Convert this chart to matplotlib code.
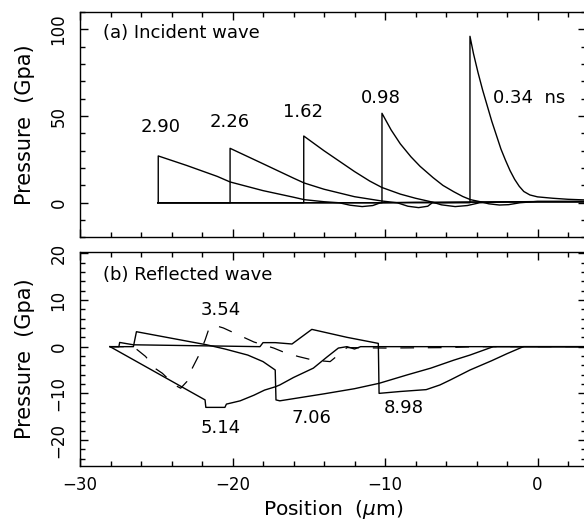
import matplotlib
matplotlib.use("Agg")
import matplotlib.pyplot as plt
from matplotlib.ticker import MultipleLocator

plt.rcParams["font.family"] = ["DejaVu Sans"]
plt.rcParams["axes.unicode_minus"] = True

# (a) incident wave profiles, time in ns -> (position um, pressure GPa)
inc_labels = ["2.90", "2.26", "1.62", "0.98", "0.34  ns"]
inc_x_290 = [-24.87, -24.87, -23.0, -21.0, -20.16, -18.0, -16.0, -15.3, -14.0, -13.0,
             -12.3, -11.5, -10.8, -10.3, -8.0, -4.0, 0.0, 3.2]
inc_p_290 = [0.0, 27.0, 21.5, 15.2, 12.0, 7.0, 3.2, 1.8, 0.6, 0.0,
             -1.4, -2.2, -1.6, 0.0, 0.3, 0.4, 0.5, 0.5]
inc_x_226 = [-24.9, -20.16, -20.16, -18.0, -16.0, -15.3, -14.0, -12.0, -10.2, -9.2,
             -8.5, -7.8, -7.2, -6.9, -4.0, 0.0, 3.2]
inc_p_226 = [0.0, 0.0, 31.4, 22.5, 14.2, 11.4, 7.8, 3.5, 1.0, 0.0,
             -2.0, -2.8, -2.0, 0.0, 0.4, 0.6, 0.6]
inc_x_162 = [-24.9, -15.33, -15.33, -14.0, -12.95, -12.0, -11.0, -10.2, -9.0, -8.0,
             -6.9, -6.3, -5.4, -4.6, -3.8, -2.0, 0.0, 3.2]
inc_p_162 = [0.0, 0.0, 38.5, 30.0, 23.7, 18.0, 12.5, 8.8, 5.0, 2.6,
             0.4, -1.2, -2.2, -1.6, 0.0, 0.5, 0.7, 0.7]
inc_x_098 = [-24.9, -10.2, -10.2, -9.6, -9.0, -8.3, -7.7, -6.85, -6.2, -5.5,
             -4.9, -4.4, -3.6, -3.2, -2.5, -1.9, -1.15, 0.0, 3.2]
inc_p_098 = [0.0, 0.0, 51.6, 42.0, 34.0, 26.5, 21.0, 14.5, 10.0, 6.4,
             3.6, 1.8, 0.3, -0.6, -1.3, -1.1, 0.0, 0.8, 0.8]
inc_x_034 = [-24.9, -4.43, -4.43, -4.2, -3.9, -3.6, -3.3, -3.0, -2.7, -2.4,
             -2.1, -1.8, -1.5, -1.2, -0.9, -0.5, 0.0, 1.0, 2.0, 3.2]
inc_p_034 = [0.0, 0.0, 96.0, 86.0, 75.0, 65.0, 56.0, 47.0, 39.0, 31.0,
             24.5, 18.5, 13.5, 9.5, 6.5, 4.5, 3.4, 2.6, 2.0, 1.6]
inc_lx = [-24.74, -20.16, -15.4, -10.3, -2.9]
inc_ly = [43.7, 46.6, 52.3, 60.4, 60.4]

# (b) reflected wave profiles
ref_labels = ["3.54", "5.14", "7.06", "8.98"]
ref_x_354 = [-28.03, -26.5, -25.7, -25.1, -24.6, -23.8, -23.4, -23.0, -22.7, -22.2,
             -21.8, -21.5, -21.0, -20.6, -19.6, -18.6, -18.0, -17.3, -16.7, -15.7,
             -14.7, -13.6, -13.0, -12.5, -10.0, -6.0, -4.0, 3.2]
ref_p_354 = [0.0, 0.0, -2.1, -4.6, -5.7, -8.2, -8.9, -7.5, -5.0, -1.8,
             1.4, 4.3, 4.4, 4.0, 2.5, 1.0, 0.4, -0.3, -1.1, -2.1,
             -2.9, -3.2, -1.6, -0.2, -0.3, -0.2, 0.0, 0.0]
ref_x_514 = [-28.03, -21.8, -21.75, -20.5, -20.4, -19.5, -18.6, -17.9, -17.2, -16.9,
             -16.0, -14.7, -13.8, -13.06, -12.5, -12.0, -11.6, 3.2]
ref_p_514 = [0.0, -11.4, -13.0, -13.0, -12.3, -11.6, -10.4, -9.3, -8.6, -8.2,
             -6.6, -4.6, -2.2, -0.3, 0.0, -0.5, 0.0, 0.0]
ref_x_706 = [-28.03, -26.5, -26.3, -21.7, -20.5, -19.0, -18.0, -17.2, -17.15, -16.9,
             -14.0, -12.0, -10.39, -8.5, -7.0, -5.5, -4.43, -2.9, 3.2]
ref_p_706 = [0.0, 0.0, 3.2, 0.4, -0.5, -1.8, -3.2, -5.0, -11.4, -11.6,
             -10.1, -9.0, -7.85, -6.0, -4.6, -2.9, -1.8, 0.0, 0.0]
ref_x_898 = [-28.03, -27.45, -27.4, -26.5, -18.2, -18.0, -17.2, -16.1, -14.8, -12.5,
             -10.44, -10.39, -9.0, -7.3, -6.4, -5.7, -4.43, -3.0, -2.0, -0.93, 3.2]
ref_p_898 = [0.0, 0.0, 0.9, 0.4, 0.0, 0.86, 0.86, 0.57, 3.7, 2.0,
             0.7, -10.0, -9.6, -9.2, -8.2, -7.1, -5.0, -3.0, -1.5, 0.0, 0.0]
ref_lx = [-20.8, -20.8, -14.8, -8.8]
ref_ly = [7.9, -17.5, -15.3, -13.2]

fig = plt.figure(figsize=(5.84, 5.23), dpi=100)
ax1 = fig.add_axes([0.137, 0.546, 0.867, 0.431])
ax2 = fig.add_axes([0.137, 0.109, 0.867, 0.410])

line_kw = dict(color="black", linewidth=1.0)
for xs, ps in [(inc_x_290, inc_p_290), (inc_x_226, inc_p_226), (inc_x_162, inc_p_162),
               (inc_x_098, inc_p_098), (inc_x_034, inc_p_034)]:
    ax1.plot(xs, ps, **line_kw)
for lab, lx, ly in zip(inc_labels, inc_lx, inc_ly):
    ha = "left" if "ns" in lab else "center"
    ax1.text(lx, ly, lab, ha=ha, va="center", fontsize=13)
ax1.text(-28.5, 98, "(a) Incident wave", ha="left", va="center", fontsize=13)

ax2.plot(ref_x_354, ref_p_354, color="black", linewidth=0.9, linestyle=(0, (11, 11)))
for xs, ps in [(ref_x_514, ref_p_514), (ref_x_706, ref_p_706), (ref_x_898, ref_p_898)]:
    ax2.plot(xs, ps, **line_kw)
for lab, lx, ly in zip(ref_labels, ref_lx, ref_ly):
    ax2.text(lx, ly, lab, ha="center", va="center", fontsize=13)
ax2.text(-28.5, 15.4, "(b) Reflected wave", ha="left", va="center", fontsize=13)

for ax in (ax1, ax2):
    ax.set_xlim(-30, 3.2)
    ax.xaxis.set_major_locator(MultipleLocator(10))
    ax.xaxis.set_minor_locator(MultipleLocator(2))
    ax.tick_params(which="both", direction="in", top=True, right=True, width=1.0)
    ax.tick_params(which="major", length=6)
    ax.tick_params(which="minor", length=3.5)
    ax.tick_params(axis="x", labelsize=12, pad=7)
    ax.tick_params(axis="y", labelsize=12, pad=9, labelrotation=90)
    for s in ax.spines.values():
        s.set_linewidth(1.0)
    ax.set_ylabel("Pressure  (Gpa)", fontsize=15)
    ax.yaxis.set_label_coords(-0.088, 0.5)

ax1.set_ylim(-20, 110)
ax1.yaxis.set_major_locator(MultipleLocator(50))
ax1.yaxis.set_minor_locator(MultipleLocator(10))
ax1.tick_params(axis="x", labelbottom=False)

ax2.set_ylim(-25.55, 20.36)
ax2.yaxis.set_major_locator(MultipleLocator(10))
ax2.yaxis.set_minor_locator(MultipleLocator(2))
ax2.set_xlabel(r"Position  ($\mu$m)", fontsize=14.5)
ax2.xaxis.set_label_coords(0.5, -0.148)

for ax in (ax1, ax2):
    plt.setp(ax.get_yticklabels(), va="center")

fig.savefig("out.png", dpi=100)
